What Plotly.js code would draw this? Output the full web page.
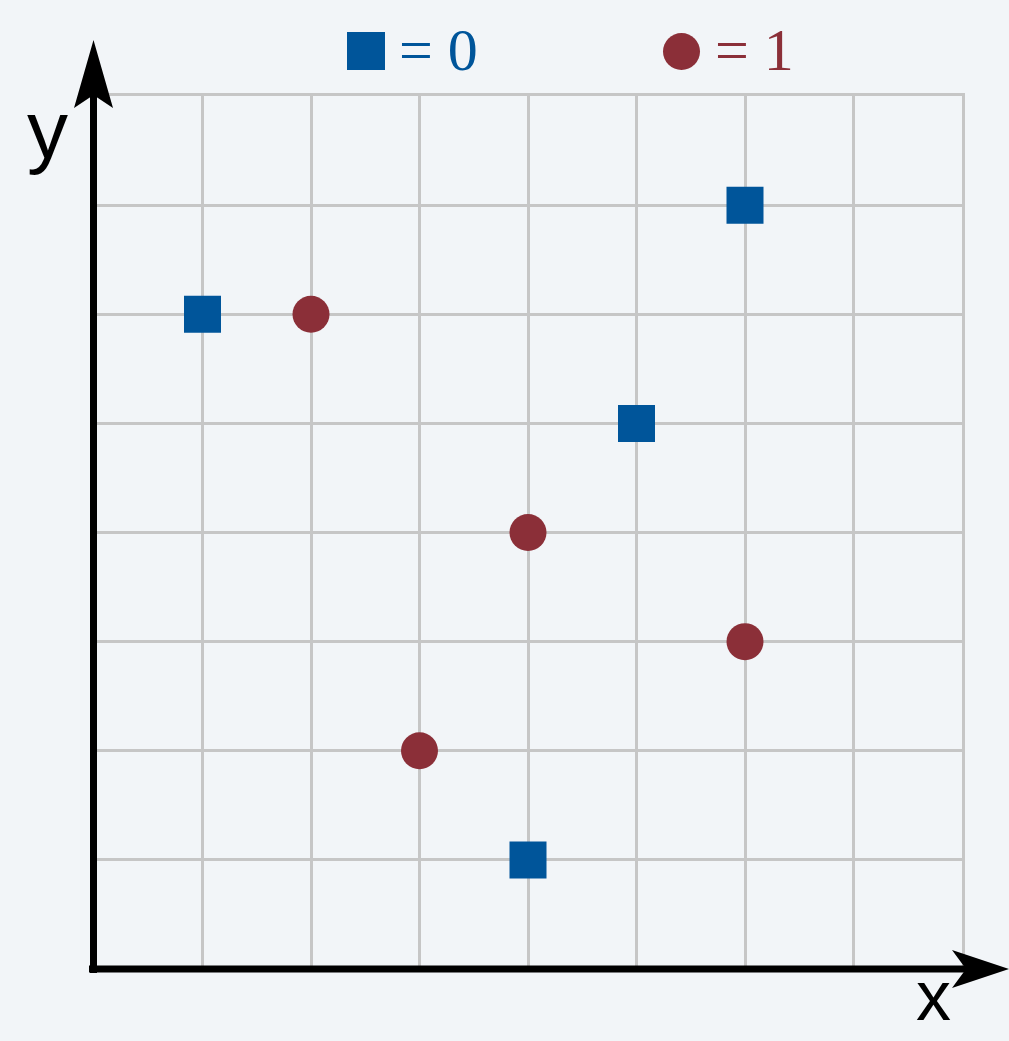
<!DOCTYPE html>
<html>
<head>
<meta charset="utf-8">
<script src="https://cdn.plot.ly/plotly-3.0.1.min.js"></script>
<style>html,body{margin:0;padding:0;background:#f2f5f8;}</style>
</head>
<body>
<div id="chart" style="width:1009px;height:1041px;"></div>
<script>
// Data
const class0X = [1, 4, 5, 6];
const class0Y = [6, 1, 5, 7];
const class1X = [2, 3, 4, 6];
const class1Y = [6, 2, 4, 3];
const legendLabels = ["= 0", "= 1"];

const BLUE = "#00559a";
const RED = "#8b2f38";
const BG = "#f2f5f8";
const GRID = "#c6c6c6";

const W = 1009, H = 1041;
const L = 94, R = 47, T = 96, B = 72;
const PW = W - L - R, PH = H - T - B;
const px = v => (v - L) / PW;
const py = v => (H - B - v) / PH;

const traces = [
  {x: class0X, y: class0Y, mode: "markers", type: "scatter", cliponaxis: false,
   marker: {symbol: "square", size: 37, color: BLUE, line: {width: 0}}, hoverinfo: "none"},
  {x: class1X, y: class1Y, mode: "markers", type: "scatter", cliponaxis: false,
   marker: {symbol: "circle", size: 37, color: RED, line: {width: 0}}, hoverinfo: "none"}
];

const axY = 969, axX = 93.5;
const shapes = [
  // x axis line
  {type: "line", xref: "paper", yref: "paper", x0: px(89), x1: px(975), y0: py(axY), y1: py(axY),
   line: {color: "#000", width: 7}},
  // y axis line
  {type: "line", xref: "paper", yref: "paper", x0: px(axX), x1: px(axX), y0: py(973), y1: py(90),
   line: {color: "#000", width: 7}},
  // x arrow head
  {type: "path", xref: "paper", yref: "paper", fillcolor: "#000", line: {width: 0},
   path: `M ${px(1009)} ${py(axY)} L ${px(952)} ${py(950)} L ${px(966)} ${py(axY)} L ${px(952)} ${py(988)} Z`},
  // y arrow head
  {type: "path", xref: "paper", yref: "paper", fillcolor: "#000", line: {width: 0},
   path: `M ${px(axX)} ${py(40)} L ${px(113)} ${py(108)} L ${px(axX)} ${py(95)} L ${px(74)} ${py(108)} Z`},
  // legend glyphs
  {type: "rect", xref: "paper", yref: "paper", x0: px(347), x1: px(385), y0: py(70), y1: py(32),
   fillcolor: BLUE, line: {width: 0}},
  {type: "circle", xref: "paper", yref: "paper", x0: px(663), x1: px(700), y0: py(70), y1: py(33),
   fillcolor: RED, line: {width: 0}}
];

const annotations = [
  {xref: "paper", yref: "paper", x: px(397), y: py(50), xanchor: "left", yanchor: "middle",
   text: legendLabels[0], showarrow: false,
   font: {family: "Liberation Serif, serif", size: 60, color: BLUE}},
  {xref: "paper", yref: "paper", x: px(713), y: py(50), xanchor: "left", yanchor: "middle",
   text: legendLabels[1], showarrow: false,
   font: {family: "Liberation Serif, serif", size: 60, color: RED}},
  {xref: "paper", yref: "paper", x: px(47), y: py(130), xanchor: "center", yanchor: "middle",
   text: "y", showarrow: false,
   font: {family: "Liberation Sans, Arial, sans-serif", size: 82, color: "#000"}},
  {xref: "paper", yref: "paper", x: px(933), y: py(996), xanchor: "center", yanchor: "middle",
   text: "x", showarrow: false,
   font: {family: "Liberation Sans, Arial, sans-serif", size: 70, color: "#000"}}
];

const axisCommon = {
  range: [0, 8], dtick: 1, tick0: 0, showticklabels: false, ticks: "",
  showgrid: true, gridcolor: GRID, gridwidth: 3, zeroline: false,
  showline: true, mirror: true, linecolor: GRID, linewidth: 3,
  fixedrange: true
};

const layout = {
  width: W, height: H,
  margin: {l: L, r: R, t: T, b: B, pad: 0},
  paper_bgcolor: BG, plot_bgcolor: BG,
  showlegend: false,
  xaxis: Object.assign({}, axisCommon),
  yaxis: Object.assign({}, axisCommon),
  shapes: shapes,
  annotations: annotations
};

Plotly.newPlot("chart", traces, layout, {displayModeBar: false, staticPlot: true});
</script>
</body>
</html>
